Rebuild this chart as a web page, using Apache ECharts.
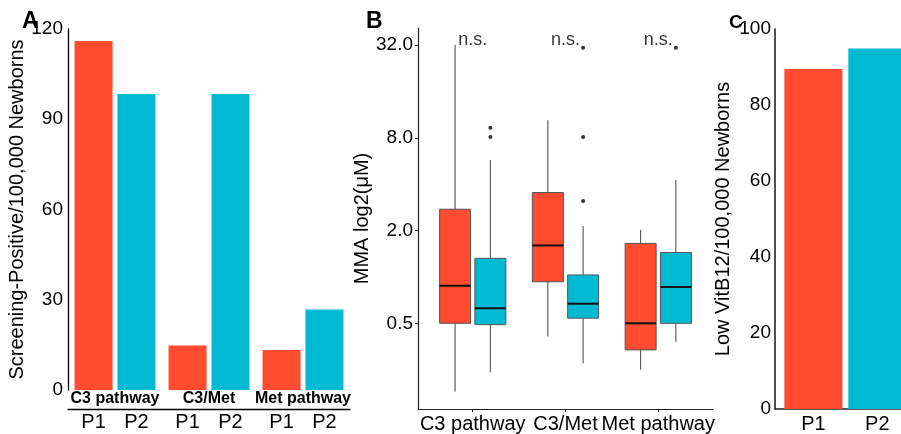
<!DOCTYPE html>
<html><head><meta charset="utf-8">
<script src="https://cdn.jsdelivr.net/npm/echarts@6.0.0/dist/echarts.min.js"></script>
<style>html,body{margin:0;padding:0;background:#fff}#c{width:901px;height:434px}</style>
</head><body><div id="c"></div>
<script>
// ---------- data ----------
const groups = ['C3 pathway', 'C3/Met', 'Met pathway'];
const periods = ['P1', 'P2'];
// Panel A: screening-positive per 100,000 newborns
const screenP1 = [116, 14.8, 13.3];
const screenP2 = [98.4, 98.4, 26.8];
const ticksA = [0, 30, 60, 90, 120];
// Panel B: MMA (µM) box stats [min, Q1, median, Q3, max]
const mmaP1 = [[0.18, 0.5, 0.876, 2.75, 32], [0.41, 0.93, 1.60, 3.53, 10.4], [0.25, 0.336, 0.5, 1.65, 2.02]];
const mmaP2 = [[0.24, 0.49, 0.626, 1.32, 5.74], [0.275, 0.54, 0.67, 1.03, 2.14], [0.38, 0.50, 0.86, 1.44, 4.26]];
const outP1 = [[], [], []];
const outP2 = [[9.3, 8.1], [30.7, 8.1, 3.11], [30.7]];
const ticksB = [0.5, 2, 8, 32];
const sigLabels = ['n.s.', 'n.s.', 'n.s.'];
// Panel C: low VitB12 per 100,000 newborns
const vitB12 = [89.5, 94.9];
const ticksC = [0, 20, 40, 60, 80, 100];

// ---------- style ----------
const RED = '#FF4B2F', CYAN = '#00BAD3';
const FONT = 'Liberation Sans, Arial, sans-serif';
const AX = '#222';
const lg = v => Math.log2(v);
const DODGE = 0.19, BOXW = 0.334;

const chart = echarts.init(document.getElementById('c'), null, {renderer: 'canvas'});

function boxSeries(stats, off, color) {
  return {
    type: 'custom', xAxisIndex: 1, yAxisIndex: 1,
    encode: {x: 0, y: [1, 2, 3, 4, 5]},
    data: stats.map((s, i) => [i + 1].concat(s.map(lg))),
    renderItem: function (params, api) {
      const x = api.value(0) + off;
      const w = api.size([BOXW, 0])[0];
      const pMin = api.coord([x, api.value(1)]);
      const pQ1 = api.coord([x, api.value(2)]);
      const pMed = api.coord([x, api.value(3)]);
      const pQ3 = api.coord([x, api.value(4)]);
      const pMax = api.coord([x, api.value(5)]);
      const cx = pMed[0];
      const ls = {stroke: '#444', lineWidth: 1};
      return {type: 'group', children: [
        {type: 'line', shape: {x1: cx, y1: pMax[1], x2: cx, y2: pQ3[1]}, style: ls},
        {type: 'line', shape: {x1: cx, y1: pQ1[1], x2: cx, y2: pMin[1]}, style: ls},
        {type: 'rect', shape: {x: cx - w / 2, y: pQ3[1], width: w, height: pQ1[1] - pQ3[1]},
          style: {fill: color, stroke: '#555', lineWidth: 1}},
        {type: 'line', shape: {x1: cx - w / 2, y1: pMed[1], x2: cx + w / 2, y2: pMed[1]},
          style: {stroke: '#111', lineWidth: 2}}
      ]};
    }
  };
}
function outlierSeries(outs, off) {
  const d = [];
  outs.forEach((arr, i) => arr.forEach(v => d.push([i + 1 + off, lg(v)])));
  return {type: 'scatter', xAxisIndex: 1, yAxisIndex: 1, data: d, symbolSize: 4,
    itemStyle: {color: '#000'}, silent: true};
}

const option = {
  animation: false,
  textStyle: {fontFamily: FONT},
  title: [
    {text: 'A', left: 17, top: 5, textStyle: {fontSize: 23, fontWeight: 'bold', color: '#000', fontFamily: FONT}},
    {text: 'B', left: 361, top: 5, textStyle: {fontSize: 23, fontWeight: 'bold', color: '#000', fontFamily: FONT}},
    {text: 'C', left: 724, top: 8, textStyle: {fontSize: 19, fontWeight: 'bold', color: '#000', fontFamily: FONT}}
  ],
  grid: [
    {left: 68, top: 29, width: 282, height: 361},
    {left: 418, top: 28, width: 295, height: 381},
    {left: 775, top: 29, width: 126, height: 380}
  ],
  xAxis: [
    {type: 'category', gridIndex: 0, data: groups, offset: 19,
      axisLine: {show: true, onZero: false, lineStyle: {color: '#000', width: 1.3}}, axisTick: {show: false},
      axisLabel: {inside: true, interval: 0, margin: 2, fontSize: 16, fontWeight: 'bold', color: '#000', fontFamily: FONT}},
    {type: 'value', gridIndex: 1, min: 0.41, max: 3.59, splitLine: {show: false},
      axisLine: {show: true, onZero: false, lineStyle: {color: AX, width: 1.2}},
      axisTick: {show: true, customValues: [1, 2, 3], length: 3, lineStyle: {color: AX}},
      axisLabel: {customValues: [1, 2, 3], formatter: v => groups[Math.round(v) - 1], margin: 5,
        fontSize: 20, color: '#000', fontFamily: FONT}},
    {type: 'value', gridIndex: 2, min: 0.4, max: 2.37, splitLine: {show: false},
      axisLine: {show: true, onZero: false, lineStyle: {color: AX, width: 1.6}},
      axisTick: {show: false},
      axisLabel: {customValues: [1, 2], formatter: v => periods[Math.round(v) - 1], margin: 5,
        fontSize: 20, color: '#000', fontFamily: FONT}}
  ],
  yAxis: [
    {type: 'value', gridIndex: 0, min: ticksA[0], max: ticksA[ticksA.length - 1], interval: 30,
      splitLine: {show: false}, axisLine: {show: true, lineStyle: {color: '#000', width: 1.3}},
      axisTick: {show: false},
      axisLabel: {margin: 5, fontSize: 19, color: '#000', fontFamily: FONT},
      name: 'Screening-Positive/100,000 Newborns', nameLocation: 'middle', nameGap: 39,
      nameTextStyle: {fontSize: 20, color: '#000', fontFamily: FONT}},
    {type: 'value', gridIndex: 1, min: -2.848, max: 5.367, splitLine: {show: false},
      axisLine: {show: true, onZero: false, lineStyle: {color: AX, width: 1.2}},
      axisTick: {show: true, customValues: ticksB.map(lg), length: 3, lineStyle: {color: AX}},
      axisLabel: {customValues: ticksB.map(lg), formatter: v => Math.pow(2, v).toFixed(1),
        margin: 5, fontSize: 19, color: '#000', fontFamily: FONT},
      name: 'MMA log2(μM)', nameLocation: 'middle', nameGap: 45,
      nameTextStyle: {fontSize: 20, color: '#000', fontFamily: FONT}},
    {type: 'value', gridIndex: 2, min: ticksC[0], max: ticksC[ticksC.length - 1], interval: 20,
      splitLine: {show: false}, axisLine: {show: true, lineStyle: {color: AX, width: 1.6}},
      axisTick: {show: false},
      axisLabel: {margin: 4, fontSize: 19, color: '#000', fontFamily: FONT},
      name: 'Low VitB12/100,000 Newborns', nameLocation: 'middle', nameGap: 42,
      nameTextStyle: {fontSize: 20, color: '#000', fontFamily: FONT}}
  ],
  series: [
    {type: 'bar', name: periods[0], xAxisIndex: 0, yAxisIndex: 0, data: screenP1, barWidth: 38, barGap: '13%',
      itemStyle: {color: RED},
      label: {show: true, position: 'bottom', distance: 5, offset: [0, 17], formatter: '{a}',
        fontSize: 20, color: '#000', fontFamily: FONT}},
    {type: 'bar', name: periods[1], xAxisIndex: 0, yAxisIndex: 0, data: screenP2, barWidth: 38, barGap: '13%',
      itemStyle: {color: CYAN},
      label: {show: true, position: 'bottom', distance: 5, offset: [0, 17], formatter: '{a}',
        fontSize: 20, color: '#000', fontFamily: FONT}},
    boxSeries(mmaP1, -DODGE, RED),
    boxSeries(mmaP2, DODGE, CYAN),
    outlierSeries(outP1, -DODGE),
    outlierSeries(outP2, DODGE),
    {type: 'scatter', xAxisIndex: 1, yAxisIndex: 1, symbolSize: 0, itemStyle: {color: '#000'},
      data: sigLabels.map((t, i) => [i + 1, 4.91]), silent: true,
      label: {show: true, position: 'top', distance: 0, formatter: p => sigLabels[p.dataIndex],
        fontSize: 18, color: '#000', fontFamily: FONT}},
    {type: 'bar', xAxisIndex: 2, yAxisIndex: 2, barWidth: 58,
      data: vitB12.map((v, i) => ({value: [i + 1, v], itemStyle: {color: i === 0 ? RED : CYAN}}))}
  ]
};
chart.setOption(option);
</script></body></html>
